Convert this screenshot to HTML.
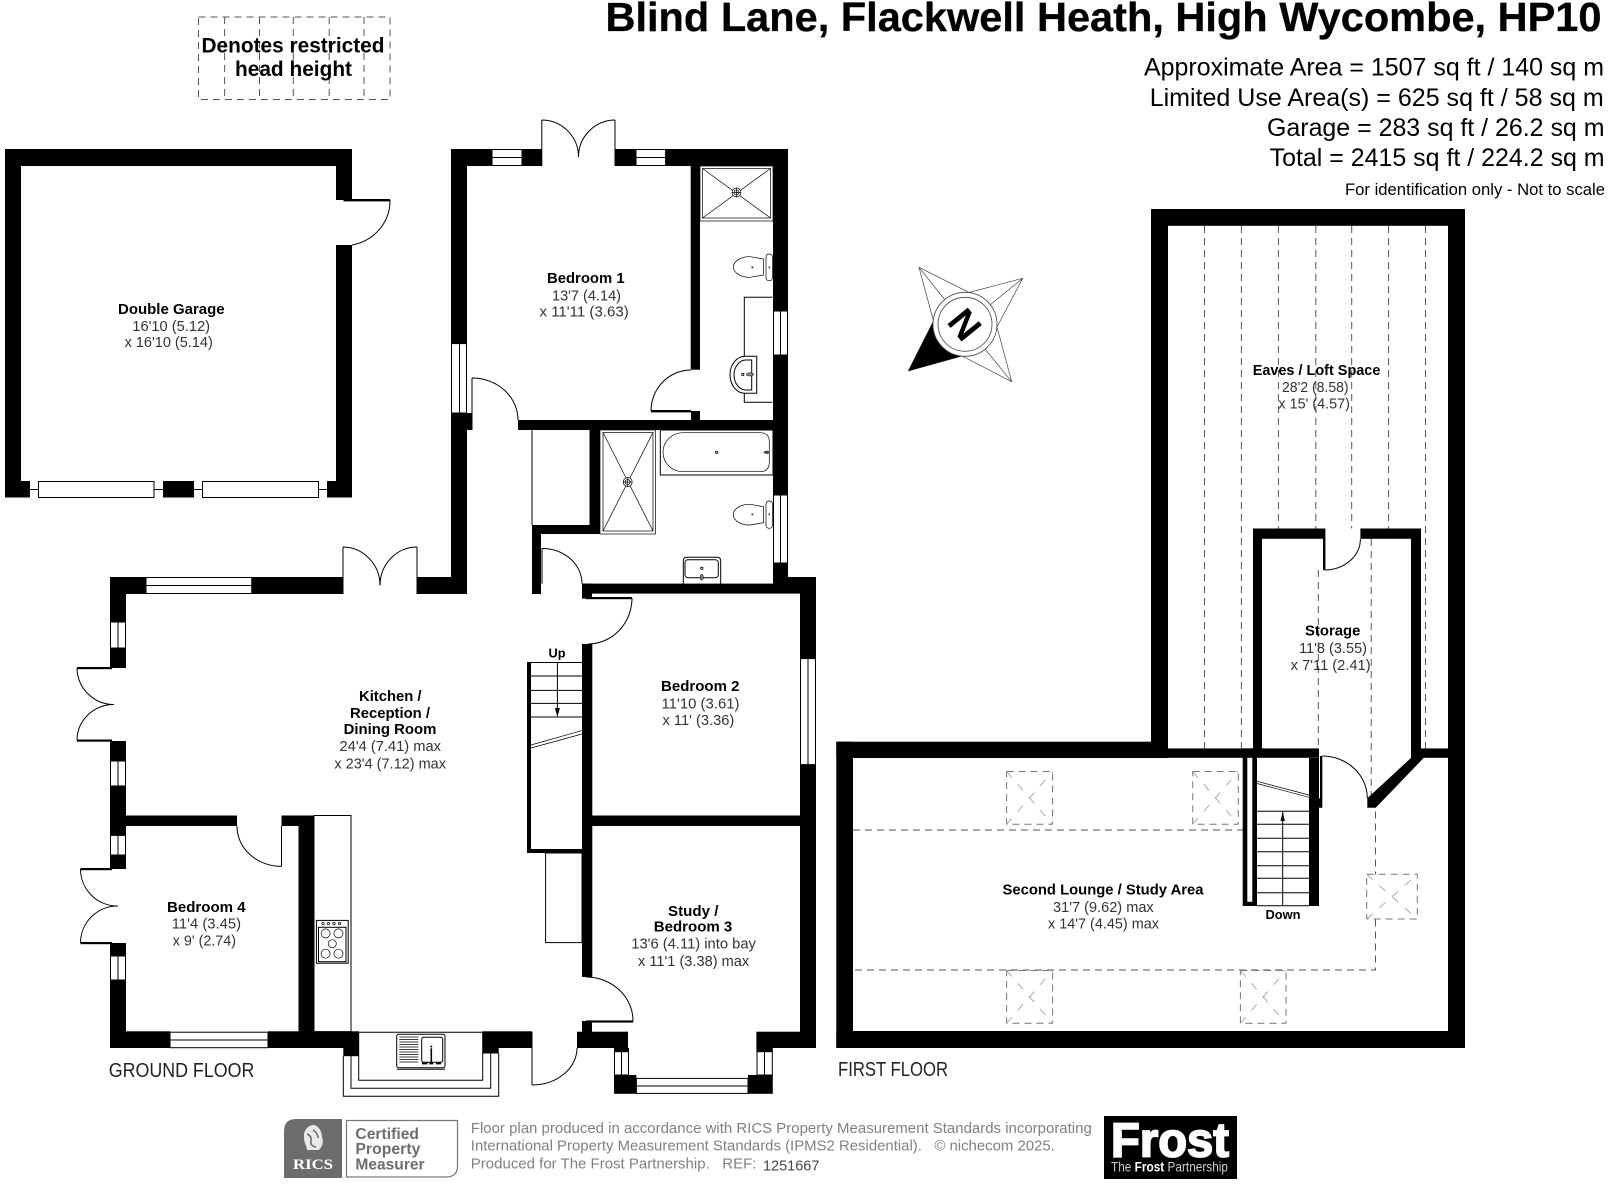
<!DOCTYPE html>
<html><head><meta charset="utf-8"><style>
html,body{margin:0;padding:0;background:#fff}
svg{display:block}
text{font-family:"Liberation Sans",Arial,sans-serif}
.b{font-weight:bold;font-size:14.5px;fill:#000}
.n{font-size:14.5px;fill:#333}
.w{fill:#fff;stroke:#000;stroke-width:1}
.t{fill:none;stroke:#000;stroke-width:1}
.d{fill:none;stroke:#555;stroke-width:1;stroke-dasharray:7 5}
.s{fill:none;stroke:#777;stroke-width:1;stroke-dasharray:7 5}
.x{fill:none;stroke:#aaa;stroke-width:1;stroke-dasharray:8 9}
.h{fill:none;stroke:#000;stroke-width:.7}
.g{fill:#6d6d6d}
</style></head><body>
<svg width="1608" height="1184" viewBox="0 0 1608 1184" xmlns="http://www.w3.org/2000/svg">
<rect width="1608" height="1184" fill="#fff"/>

<!-- legend -->
<rect x="198.5" y="17" width="191.5" height="82.5" class="d"/>
<path class="d" d="M224.6 17V99.5M259.5 17V99.5M293.3 17V99.5M329.2 17V99.5M364 17V99.5"/>
<text x="201.5" y="52.5" font-size="21" font-weight="bold" textLength="183" lengthAdjust="spacingAndGlyphs">Denotes restricted</text>
<text x="235" y="76" font-size="21" font-weight="bold" textLength="117" lengthAdjust="spacingAndGlyphs">head height</text>

<!-- title -->
<text x="605.5" y="31" font-size="41" font-weight="bold" stroke="#000" stroke-width=".3" textLength="996" lengthAdjust="spacingAndGlyphs">Blind Lane, Flackwell Heath, High Wycombe, HP10</text>
<text x="1144" y="75.4" font-size="25" textLength="460" lengthAdjust="spacingAndGlyphs">Approximate Area = 1507 sq ft / 140 sq m</text>
<text x="1149.7" y="106" font-size="25" textLength="454" lengthAdjust="spacingAndGlyphs">Limited Use Area(s) = 625 sq ft / 58 sq m</text>
<text x="1267" y="136" font-size="25" textLength="337.5" lengthAdjust="spacingAndGlyphs">Garage = 283 sq ft / 26.2 sq m</text>
<text x="1269.6" y="166" font-size="25" textLength="335" lengthAdjust="spacingAndGlyphs">Total = 2415 sq ft / 224.2 sq m</text>
<text x="1345" y="195" font-size="17" textLength="260" lengthAdjust="spacingAndGlyphs">For identification only - Not to scale</text>

<!-- dashed roof lines (under walls) -->
<path class="d" d="M1204.5 226V748.6M1241.4 226V748.6M1278.4 226V528.5M1315.8 226V528.5M1351.7 226V528.5M1388.6 226V528.5M1425.5 226V748.6"/>
<path class="d" d="M1318.3 570V748.6M1371.2 539V798"/>
<path class="d" d="M853 830H1255M855 970H1375.5V808"/>
<rect x="1006.6" y="771.5" width="46" height="52.8" class="s"/><path class="x" d="M1006.6 824.3L1052.6 771.5M1006.6 771.5L1052.6 824.3"/>
<rect x="1192.7" y="771.5" width="45.6" height="52.8" class="s"/><path class="x" d="M1192.7 824.3L1238.3 771.5M1192.7 771.5L1238.3 824.3"/>
<rect x="1006.6" y="970.5" width="46" height="52.8" class="s" /><path class="x" d="M1006.6 1023.3L1052.6 970.5M1006.6 970.5L1052.6 1023.3"/>
<rect x="1240.4" y="970.5" width="45.6" height="52.8" class="s"/><path class="x" d="M1240.4 1023.3L1286 970.5M1240.4 970.5L1286 1023.3"/>
<rect x="1366.7" y="874.3" width="50.6" height="44.7" class="s" style="fill:#fff"/>
<path class="x" d="M1366.7 919L1417.3 874.3M1366.7 874.3L1417.3 919"/>

<!-- walls -->
<g fill="#000">
<!-- garage -->
<rect x="5" y="149" width="347" height="17"/><rect x="5" y="149" width="16" height="348.5"/>
<rect x="5" y="481" width="25" height="16.5"/><rect x="163" y="481" width="31" height="16.5"/><rect x="327" y="481" width="25" height="16.5"/>
<rect x="336" y="149" width="16" height="51"/><rect x="336" y="245" width="16" height="252.5"/>
<rect x="343.5" y="199" width="46.5" height="2.4"/>
<!-- bedroom 1 -->
<rect x="451" y="149" width="41" height="17"/><rect x="522" y="149" width="19.5" height="17"/><rect x="615" y="149" width="21" height="17"/><rect x="665.6" y="149" width="122.4" height="17"/>
<rect x="451" y="149" width="16" height="194.6"/><rect x="451" y="413" width="16" height="181"/><rect x="451" y="413" width="21" height="17"/>
<rect x="518" y="420" width="270" height="10"/>
<rect x="773" y="149" width="15" height="162"/><rect x="773" y="355" width="15" height="140"/><rect x="773" y="563" width="15" height="30"/>
<rect x="773" y="577" width="43" height="16.6"/>
<rect x="690.7" y="166" width="9.3" height="203.7"/><rect x="691" y="411" width="9" height="9"/><rect x="651" y="410" width="40" height="2.4"/>
<!-- bathroom partitions -->
<rect x="590" y="430" width="10" height="104"/><rect x="532" y="525" width="68" height="9"/><rect x="532" y="525" width="9" height="69"/>
<!-- centre core -->
<rect x="582" y="583.6" width="191" height="10"/><rect x="582" y="583.6" width="10" height="15"/><rect x="586" y="597" width="46" height="2.2"/>
<rect x="582" y="644" width="10.3" height="333"/><rect x="582" y="815.5" width="234" height="10.5"/>
<rect x="800" y="577" width="16" height="81.6"/><rect x="800" y="764.6" width="16" height="283.4"/>
<!-- kitchen -->
<rect x="110" y="577" width="36" height="17"/><rect x="251.7" y="577" width="91" height="17"/><rect x="417" y="577" width="50" height="17"/>
<rect x="110" y="577" width="16" height="45"/><rect x="110" y="648" width="16" height="20"/><rect x="110" y="741" width="16" height="20"/><rect x="110" y="786" width="16" height="49.4"/><rect x="110" y="855" width="16" height="14"/><rect x="110" y="943" width="16" height="13"/><rect x="110" y="980" width="16" height="68"/>
<rect x="77" y="667" width="35" height="2.2"/><rect x="77" y="739.5" width="35" height="2.2"/><rect x="80.5" y="868" width="31.5" height="2.2"/><rect x="80.5" y="942" width="31.5" height="2.2"/>
<rect x="126" y="815.5" width="111" height="10.5"/><rect x="281.5" y="815.5" width="32.5" height="10.5"/><rect x="298.5" y="815.5" width="15.5" height="232"/>
<rect x="110" y="1031.3" width="60" height="16.7"/><rect x="268" y="1031.3" width="91" height="16.7"/><rect x="343.3" y="1048" width="15.7" height="8.2"/>
<rect x="482.5" y="1031.3" width="49.5" height="16.7"/><rect x="482.5" y="1048" width="16.2" height="5.5"/>
<rect x="577" y="1031.7" width="51" height="16.3"/><rect x="582" y="1021" width="10" height="11"/><rect x="586" y="1020.4" width="47" height="2.2"/>
<rect x="614" y="1048" width="15" height="3.7"/><rect x="614" y="1075" width="22.4" height="18.8"/><rect x="748" y="1075" width="24.8" height="18.8"/>
<rect x="756.4" y="1031.7" width="59.6" height="16.3"/><rect x="756.4" y="1048" width="16.4" height="3.7"/>
<!-- stair ground -->
<rect x="527" y="662" width="4" height="191"/><rect x="527" y="849" width="55" height="4"/>
<!-- first floor -->
<rect x="836.3" y="741.7" width="314.7" height="16.3"/><rect x="1151" y="209" width="314" height="16.8"/><rect x="1151" y="209" width="17" height="549"/>
<rect x="1168" y="748.4" width="151" height="9.4"/><rect x="1421" y="748.4" width="44" height="9.4"/><rect x="1448" y="209" width="17" height="839"/>
<rect x="836.3" y="741.7" width="16.7" height="306.3"/><rect x="836.3" y="1031" width="628.7" height="17"/>
<rect x="1253" y="528.5" width="71.5" height="10.3"/><rect x="1360.4" y="528.5" width="60.6" height="10.3"/><rect x="1253" y="528.5" width="9" height="220"/><rect x="1411" y="528.5" width="10" height="229.5"/>
<rect x="1323" y="528.5" width="2.4" height="41.5"/>
<polygon points="1411.7,757.3 1424.3,757.3 1375.7,807.7 1367.3,807.7 1367.3,798.3"/>
<rect x="1309" y="758" width="10" height="148"/><rect x="1242.7" y="748.4" width="14.3" height="157.6"/>
<rect x="1320" y="756" width="2.3" height="51.7"/><rect x="1309" y="798.3" width="13" height="9.4"/>
</g>
<rect x="1247.3" y="757.8" width="5" height="144" fill="#fff"/>

<!-- windows -->
<g>
<rect class="w" x="38.5" y="481.5" width="115.5" height="16"/><rect class="w" x="202.5" y="481.5" width="116" height="16"/>
<path class="t" d="M30 489.5H38.5M154 489.5H163M194 489.5H202.5M318.5 489.5H327"/>
<rect class="w" x="492" y="149.5" width="30" height="16"/><path class="t" d="M492 157.5H522"/>
<rect class="w" x="636" y="149.5" width="29.6" height="16"/><path class="t" d="M636 157.5H665.6"/>
<rect class="w" x="451.5" y="343.6" width="15" height="69.4"/><path class="t" d="M459.5 343.6V413"/>
<rect class="w" x="773.5" y="311" width="14" height="44"/><path class="t" d="M780.5 311V355"/>
<rect class="w" x="773.5" y="495" width="14" height="68"/><path class="t" d="M780.5 495V563"/>
<rect class="w" x="146" y="577.5" width="105.7" height="16"/><path class="t" d="M146 585.5H251.7"/>
<rect class="w" x="800.5" y="658.6" width="15" height="106"/><path class="t" d="M808 658.6V764.6"/>
<rect class="w" x="110.5" y="622" width="15" height="26"/><path class="t" d="M118 622V648"/>
<rect class="w" x="110.5" y="761" width="15" height="25"/><path class="t" d="M118 761V786"/>
<rect class="w" x="110.5" y="835.4" width="15" height="19.6"/><path class="t" d="M118 835.4V855"/>
<rect class="w" x="110.5" y="956" width="15" height="24"/><path class="t" d="M118 956V980"/>
<rect class="w" x="170" y="1032.2" width="98" height="15.5"/><path class="t" d="M170 1040H268"/>
<rect class="w" x="614.5" y="1051.7" width="14" height="23.3"/><path class="t" d="M621.5 1051.7V1075"/>
<rect class="w" x="757" y="1051.7" width="15.3" height="23.3"/><path class="t" d="M764.5 1051.7V1075"/>
<rect class="w" x="636.4" y="1078.4" width="111.6" height="15"/><path class="t" d="M636.4 1086H748"/>
</g>

<!-- doors -->
<g class="t">
<path d="M390 200A46 45 0 0 1 352 245"/>
<path d="M541.8 120V166M615 120V166M541.8 120A37 37 0 0 1 578.5 157M615 120A37 37 0 0 0 578.5 157"/>
<path d="M343 547V594M417 547V594M343 547A37.5 38.5 0 0 1 380 585.5M417 547A37 38.5 0 0 0 380 585.5"/>
<path d="M472 378V430M472 378A46 42 0 0 1 518 420" />
<path d="M651 411A40 41 0 0 1 691 370"/>
<path d="M542 548.5V583.6M542 548.5A40 35 0 0 1 582 583.6"/>
<path d="M632 598A44 46 0 0 1 588 644"/>
<path d="M77 668A37 37 0 0 0 114 704.5A37 36 0 0 0 77 740.5"/>
<path d="M80.5 869A37 37 0 0 0 118 906A37 37 0 0 0 80.5 943"/>
<path d="M237 826A44.5 40 0 0 0 281.5 866.4M281.5 826V866.4"/>
<path d="M586 977A47 44 0 0 1 633 1021.4"/>
<path d="M532 1031.7V1085M532 1085A45 37 0 0 0 577 1048"/>
<path d="M1360.4 539A36 31 0 0 1 1324.5 570"/>
<path d="M1322.3 756A45 42.3 0 0 1 1367.3 798.3"/>
</g>

<!-- ensuite shower -->
<g class="h">
<rect x="700" y="166" width="73" height="55"/><rect x="702.5" y="168.5" width="68" height="49.5"/>
<path d="M702.5 168.5L770.5 218M770.5 168.5L702.5 218"/>
<circle cx="736.5" cy="192.5" r="4.5" fill="#fff"/><circle cx="736.5" cy="192.5" r="2.5"/><path d="M732 192.5H741M736.5 188V197"/>
<!-- bathroom shower -->
<rect x="600" y="430" width="55.5" height="104"/><rect x="603" y="432.5" width="50" height="98.5"/>
<path d="M603 432.5L653 531M653 432.5L603 531"/>
<circle cx="627.7" cy="482" r="4.5" fill="#fff"/><circle cx="627.7" cy="482" r="2.5"/><path d="M623 482H632.5M627.7 477.5V486.5"/>
<!-- bath -->
<rect x="660.3" y="430" width="112.7" height="45" stroke-width="1"/>
<path d="M683 432.7H760Q769.3 432.7 769.3 442V462Q769.3 471.7 760 471.7H683A20 19.5 0 0 1 683 432.7Z"/>
<!-- toilets -->
<path d="M733.3 267A16 10.5 0 0 1 750 256.7L763.5 259V275L750 277.3A16 10.5 0 0 1 733.3 267Z"/><rect x="766" y="254" width="6.5" height="26.7" rx="3"/>
<path d="M733.3 514.7A16 10.5 0 0 1 750 504.3L763.5 506.7V522.7L750 525A16 10.5 0 0 1 733.3 514.7Z"/><rect x="766" y="501" width="6.5" height="27.3" rx="3"/>
</g>
<rect x="715.7" y="451.3" width="2" height="2" fill="#fff" stroke="#000" stroke-width=".8"/>
<ellipse cx="766.7" cy="452.3" rx="3" ry="1.6" fill="#444"/>
<path fill="#333" d="M751.5 266.5h1.8v1.8h-1.8zM768.6 266.5h1.4v1.8h-1.4zM751.5 513.5h1.8v1.8h-1.8zM768.6 513.5h1.4v1.8h-1.4z"/>
<!-- vanity -->
<g class="t">
<path d="M772.5 297.3H744.3V402.3H772.5"/>
<path d="M756.7 356.3H745A15 18.5 0 0 0 745 393.3H756.7Z" fill="#fff"/>
<path d="M751.7 360H746A12 15 0 0 0 746 390H751.7Z" fill="#fff"/>
</g>
<rect x="741.8" y="373.4" width="2" height="2" fill="#fff" stroke="#000" stroke-width=".8"/>
<ellipse cx="750" cy="374.4" rx="3.8" ry="1.6" fill="#888" stroke="#000" stroke-width=".5"/>
<!-- bathroom basin / cupboard -->
<path class="t" d="M683.3 584V561Q683.3 557.3 687 557.3H717Q720.7 557.3 720.7 561V584" fill="#fff"/>
<rect class="t" x="685" y="559.7" width="33.3" height="18" rx="3"/>
<rect x="700.7" y="567.3" width="2.2" height="2" fill="#fff" stroke="#000" stroke-width=".8"/>
<ellipse cx="701.7" cy="577.3" rx="1.6" ry="3" fill="#777" stroke="#000" stroke-width=".5"/>
<path class="t" d="M532 430V525M590 430V525"/>
<!-- stairs ground -->
<path class="t" d="M531 662.5H582M531 676H582M531 690.4H582M531 703.4H582M531 717H582M557.4 662.5V716"/>
<path fill="#000" d="M557.4 717l-2.5-9h5z"/>
<path class="h" d="M531 745L582 730.6M531 748L582 734"/>
<rect class="t" x="545.6" y="853" width="36.4" height="89.6"/>
<!-- kitchen fittings -->
<rect class="t" x="314" y="815.5" width="37" height="216.2"/>
<rect class="t" x="316.4" y="920.4" width="31.8" height="42.8" fill="#fff"/>
<rect class="t" x="318.5" y="927.3" width="27.5" height="34.4"/>
<g class="h"><circle cx="325.6" cy="933.4" r="4.5"/><circle cx="338.5" cy="933.4" r="4.5"/><circle cx="332.3" cy="943.7" r="4"/><circle cx="325.6" cy="953.7" r="4.5"/><circle cx="338.5" cy="953.7" r="4.5"/>
<circle cx="323" cy="923.6" r="1.2"/><circle cx="328.5" cy="923.6" r="1.2"/><circle cx="334" cy="923.6" r="1.2"/><circle cx="339.5" cy="923.6" r="1.2"/></g>
<!-- kitchen bay -->
<path class="t" d="M343.3 1056V1096.3H498.7V1053.3M351 1056V1088.3H490.7V1053.3M358.7 1032V1080.3H482.7V1032M358.7 1032.3H482.7"/>
<rect class="t" x="396.7" y="1034.3" width="48.3" height="33.4" rx="2" fill="#fff"/>
<path class="h" stroke-width="1" d="M399.3 1037H418.3M399.3 1039.5H418.3M399.3 1042H418.3M399.3 1044.5H418.3M399.3 1047H418.3M399.3 1049.5H418.3M399.3 1052H418.3M399.3 1054.5H418.3M399.3 1057H418.3M399.3 1059.5H418.3M399.3 1062H418.3"/>
<rect class="t" x="421.7" y="1037.3" width="21" height="25" rx="2"/>
<path d="M431.3 1048.3V1062.3" stroke="#000" stroke-width="1.6"/>
<circle cx="431.3" cy="1046.5" r="1"/>
<path d="M422 1063.5h5.5M429.3 1063.5h4M436 1063.5h5" stroke="#000" stroke-width="1.8"/>
<path class="t" d="M396.7 1069.3H445"/>

<!-- stairs first floor -->
<path class="t" d="M1257 811.3H1309M1257 824.3H1309M1257 838.3H1309M1257 851.7H1309M1257 865.7H1309M1257 878.3H1309M1257 892.7H1309M1257 905.7H1309M1282.7 811.3V906"/>
<path fill="#000" d="M1282.7 811.5l-2.2 9.5h4.4z"/>
<path class="h" d="M1257 781.3L1309 795M1257 783.5L1309 797.3"/>

<!-- compass -->
<g stroke="#444" stroke-width=".7" fill="#fff">
<polygon points="919,267.3 969,292.5 1022.7,278.3 997,327 1011.7,381.7 962,356 908.3,371 933.5,321"/>
<path d="M919 267.3L945 300M1022.7 278.3L990 305M1011.7 381.7L985 349M908.3 371L940 349" fill="none"/>
</g>
<polygon points="908.3,371 933.5,321 962,356" fill="#000"/>
<circle cx="965" cy="324.3" r="32" fill="#fff" stroke="#444" stroke-width=".8"/>
<circle cx="965" cy="324.3" r="27" fill="#fff" stroke="#444" stroke-width=".8"/>
<text x="965" y="324.3" font-size="38" font-weight="bold" text-anchor="middle" transform="rotate(51 965 324.3) translate(0 13.5)">N</text>

<!-- room labels -->
<text class="b" x="118" y="313.8" textLength="106.6" lengthAdjust="spacingAndGlyphs">Double Garage</text>
<text class="n" x="132.3" y="331" textLength="77.7" lengthAdjust="spacingAndGlyphs">16'10 (5.12)</text>
<text class="n" x="124.6" y="347" textLength="88.2" lengthAdjust="spacingAndGlyphs">x 16'10 (5.14)</text>

<text class="b" x="547" y="283" textLength="77.6" lengthAdjust="spacingAndGlyphs">Bedroom 1</text>
<text class="n" x="552" y="300.4" textLength="69" lengthAdjust="spacingAndGlyphs">13'7 (4.14)</text>
<text class="n" x="539.5" y="316.5" textLength="89.2" lengthAdjust="spacingAndGlyphs">x 11'11 (3.63)</text>

<text class="b" x="1252.7" y="375" textLength="127.7" lengthAdjust="spacingAndGlyphs">Eaves / Loft Space</text>
<text class="n" x="1282" y="392" textLength="66.6" lengthAdjust="spacingAndGlyphs">28'2 (8.58)</text>
<text class="n" x="1278.4" y="408.7" textLength="71.6" lengthAdjust="spacingAndGlyphs">x 15' (4.57)</text>

<text class="b" x="359" y="701" textLength="62.5" lengthAdjust="spacingAndGlyphs">Kitchen /</text>
<text class="b" x="350" y="718" textLength="80" lengthAdjust="spacingAndGlyphs">Reception /</text>
<text class="b" x="343.6" y="734" textLength="92.8" lengthAdjust="spacingAndGlyphs">Dining Room</text>
<text class="n" x="339.5" y="751" textLength="101.5" lengthAdjust="spacingAndGlyphs">24'4 (7.41) max</text>
<text class="n" x="334.4" y="768.5" textLength="111.6" lengthAdjust="spacingAndGlyphs">x 23'4 (7.12) max</text>

<text class="b" x="661" y="691" textLength="78.5" lengthAdjust="spacingAndGlyphs">Bedroom 2</text>
<text class="n" x="661.5" y="708.4" textLength="78" lengthAdjust="spacingAndGlyphs">11'10 (3.61)</text>
<text class="n" x="662.5" y="725" textLength="71.8" lengthAdjust="spacingAndGlyphs">x 11' (3.36)</text>

<text class="b" x="167" y="912" textLength="78.6" lengthAdjust="spacingAndGlyphs">Bedroom 4</text>
<text class="n" x="171.8" y="928.4" textLength="69.2" lengthAdjust="spacingAndGlyphs">11'4 (3.45)</text>
<text class="n" x="172.8" y="945.6" textLength="63.2" lengthAdjust="spacingAndGlyphs">x 9' (2.74)</text>

<text class="b" x="668" y="916" textLength="50.4" lengthAdjust="spacingAndGlyphs">Study /</text>
<text class="b" x="653.8" y="931.5" textLength="78.5" lengthAdjust="spacingAndGlyphs">Bedroom 3</text>
<text class="n" x="631.3" y="948.7" textLength="124.6" lengthAdjust="spacingAndGlyphs">13'6 (4.11) into bay</text>
<text class="n" x="638" y="966" textLength="111.2" lengthAdjust="spacingAndGlyphs">x 11'1 (3.38) max</text>

<text class="b" x="1305" y="635.7" textLength="55.4" lengthAdjust="spacingAndGlyphs">Storage</text>
<text class="n" x="1299" y="653" textLength="68" lengthAdjust="spacingAndGlyphs">11'8 (3.55)</text>
<text class="n" x="1290.7" y="670" textLength="79.9" lengthAdjust="spacingAndGlyphs">x 7'11 (2.41)</text>

<text class="b" x="1002.5" y="894.7" textLength="201" lengthAdjust="spacingAndGlyphs">Second Lounge / Study Area</text>
<text class="n" x="1053" y="912" textLength="100.7" lengthAdjust="spacingAndGlyphs">31'7 (9.62) max</text>
<text class="n" x="1048" y="928.4" textLength="111" lengthAdjust="spacingAndGlyphs">x 14'7 (4.45) max</text>

<text x="548.5" y="657.5" font-size="12.5" font-weight="bold" textLength="17" lengthAdjust="spacingAndGlyphs">Up</text>
<text x="1265.5" y="919" font-size="12.5" font-weight="bold" textLength="35" lengthAdjust="spacingAndGlyphs">Down</text>

<text x="108.7" y="1077" font-size="20" fill="#222" textLength="145.7" lengthAdjust="spacingAndGlyphs">GROUND FLOOR</text>
<text x="838" y="1075.8" font-size="20" fill="#222" textLength="110" lengthAdjust="spacingAndGlyphs">FIRST FLOOR</text>

<!-- footer -->
<path class="g" d="M296 1119H342V1178H284V1131Q284 1119 296 1119Z"/>
<path fill="#fff" d="M313 1125c-7 1-10 8-9 13 0 5 3 8 3 12h12c3-3 5-8 3-13 0-6-4-12-9-12z" opacity=".85"/>
<path d="M307 1134q5 2 4 7t5 6M313 1130q5 3 5 8" stroke="#6d6d6d" stroke-width="1.6" fill="none"/>
<text x="293" y="1169" font-size="14.5" font-weight="bold" fill="#fff" style="font-family:'Liberation Serif',serif" textLength="40" lengthAdjust="spacingAndGlyphs">RICS</text>
<path d="M346.5 1120.5H457.5V1166Q457.5 1177 446 1177H346.5Z" fill="#fff" stroke="#777" stroke-width="1.2"/>
<g font-size="15.5" font-weight="bold" fill="#6d6d6d">
<text x="355.4" y="1139" textLength="63.6" lengthAdjust="spacingAndGlyphs">Certified</text>
<text x="355.4" y="1154" textLength="65" lengthAdjust="spacingAndGlyphs">Property</text>
<text x="355.4" y="1169.5" textLength="69.2" lengthAdjust="spacingAndGlyphs">Measurer</text>
</g>
<g font-size="14.5" fill="#808080">
<text x="470.8" y="1132.8" textLength="621" lengthAdjust="spacingAndGlyphs">Floor plan produced in accordance with RICS Property Measurement Standards incorporating</text>
<text x="470.8" y="1150.4" textLength="584" lengthAdjust="spacingAndGlyphs" xml:space="preserve">International Property Measurement Standards (IPMS2 Residential).   © nichecom 2025.</text>
<text x="470.8" y="1168.4" textLength="285.6" lengthAdjust="spacingAndGlyphs" xml:space="preserve">Produced for The Frost Partnership.   REF:</text>
</g>
<text x="763" y="1170.7" font-size="14.5" fill="#444" textLength="56.4" lengthAdjust="spacingAndGlyphs">1251667</text>

<rect x="1104" y="1116" width="133" height="63" fill="#000"/>
<text x="1111" y="1156.7" font-size="48" font-weight="bold" fill="#fff" stroke="#fff" stroke-width="1.8" textLength="118" lengthAdjust="spacingAndGlyphs">Frost</text>
<text x="1111" y="1171.7" font-size="14" fill="#ccc" textLength="117" lengthAdjust="spacingAndGlyphs">The <tspan font-weight="bold" fill="#fff">Frost</tspan> Partnership</text>
</svg>
</body></html>
